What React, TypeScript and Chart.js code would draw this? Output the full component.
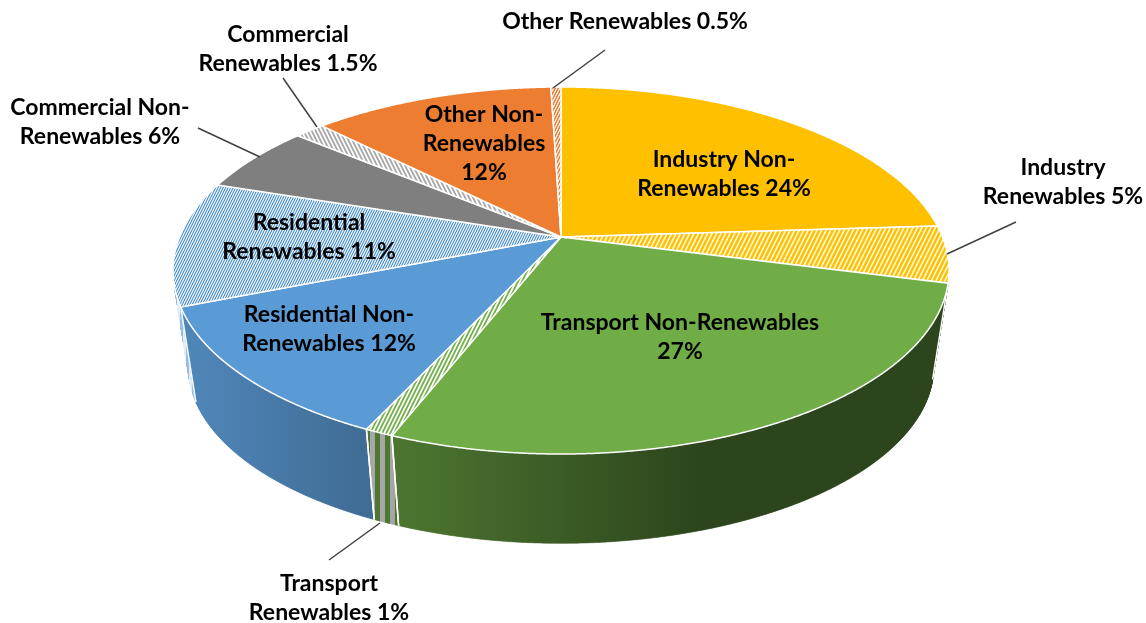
import React, { useEffect, useRef } from "react";
import { Chart, registerables } from "chart.js";

Chart.register(...registerables);

const categories = [
  "Industry Non-Renewables",
  "Industry Renewables",
  "Transport Non-Renewables",
  "Transport Renewables",
  "Residential Non-Renewables",
  "Residential Renewables",
  "Commercial Non-Renewables",
  "Commercial Renewables",
  "Other Non-Renewables",
  "Other Renewables",
];
const shares = [24, 5, 27, 1, 12, 11, 6, 1.5, 12, 0.5];
const labelLines = [
  ["Industry Non-", "Renewables 24%"],
  ["Industry", "Renewables 5%"],
  ["Transport Non-Renewables", "27%"],
  ["Transport", "Renewables 1%"],
  ["Residential Non-", "Renewables 12%"],
  ["Residential", "Renewables 11%"],
  ["Commercial Non-", "Renewables 6%"],
  ["Commercial", "Renewables 1.5%"],
  ["Other Non-", "Renewables", "12%"],
  ["Other Renewables 0.5%"],
];

const W = 1146;
const H = 623;

// view of the tilted disc
const view = { cx: 561, cy: 237, a: 177.4, b: 381.5, k: 0.1826, baseScale: 0.96, baseDrop: 98 };
const labelCentres = [
  [724, 160], [1063, 168], [680, 323], [329, 584], [329, 315],
  [309, 223], [100, 108], [288, 35], [484, 115], [625, 22],
];
const leaders: (number[] | null)[] = [
  null, [947, 254, 1016, 222], null, [380, 523, 329, 560], null,
  null, [260, 157, 198, 128], [317, 127, 283, 78], null, [553, 88, 605, 50],
];
const baseColors = ["#ffc000", "#ffc000", "#70ad47", "#70ad47", "#5b9bd5", "#5b9bd5", "#7f7f7f", "#a5a5a5", "#ed7d31", "#ed7d31"];
// [x step, y step, period, share of white] of the hatch of a slice
const hatches: (number[] | null)[] = [
  null, [2, 1, 9, 0.28], null, [2, 1, 8, 0.5], null,
  [2, 1, 5, 0.42], null, [2, -1, 8, 0.5], null, [2, 1, 6, 0.4],
];
const sideless = [0, 1, 6, 7, 8, 9];

function project(theta: number) {
  const X = Math.cos(theta);
  const Y = Math.sin(theta);
  const den = 1 - view.k * Y;
  return { x: view.cx + (view.b * X) / den, y: view.cy + (view.a * Y) / den };
}
function lower(p: { x: number; y: number }) {
  return {
    x: view.cx + (p.x - view.cx) * view.baseScale,
    y: view.cy + (p.y - view.cy) * view.baseScale + view.baseDrop,
  };
}
function shadeAt(x: number) {
  const stops = [[190, 0.87], [364, 0.7], [387, 0.69], [700, 0.4]];
  if (x <= stops[0][0]) return stops[0][1];
  for (let i = 1; i < stops.length; i++) {
    if (x <= stops[i][0]) {
      const t = (x - stops[i - 1][0]) / (stops[i][0] - stops[i - 1][0]);
      return stops[i - 1][1] + t * (stops[i][1] - stops[i - 1][1]);
    }
  }
  return stops[stops.length - 1][1];
}
function rgb(hex: string) {
  return [1, 3, 5].map((i) => parseInt(hex.slice(i, i + 2), 16));
}
function makePattern(ctx: CanvasRenderingContext2D, hex: string, spec: number[]) {
  const [ax, ay, period, share] = spec;
  const c = document.createElement("canvas");
  c.width = period;
  c.height = period;
  const g = c.getContext("2d")!;
  const img = g.createImageData(period, period);
  const base = rgb(hex);
  for (let y = 0; y < period; y++) {
    for (let x = 0; x < period; x++) {
      const wave = 0.5 + 0.5 * Math.cos((2 * Math.PI * (ax * x + ay * y)) / period);
      const mix = Math.max(0, Math.min(1, wave * 1.2 - 0.6 + share));
      const o = (y * period + x) * 4;
      for (let n = 0; n < 3; n++) img.data[o + n] = Math.round(base[n] + (255 - base[n]) * mix);
      img.data[o + 3] = 255;
    }
  }
  g.putImageData(img, 0, 0);
  return ctx.createPattern(c, "repeat")!;
}
function sideFill(ctx: CanvasRenderingContext2D, i: number) {
  const grad = ctx.createLinearGradient(0, 0, W, 0);
  const base = rgb(baseColors[i]);
  const paint = (c: number[], s: number) => `rgb(${Math.round(c[0] * s)},${Math.round(c[1] * s)},${Math.round(c[2] * s)})`;
  if (i === 5) {
    // the sliver of hatched blue showing at the far left
    for (let x = 0; x < W; x += 3) {
      const c = Math.floor(x / 3) % 2 === 0 ? [150, 190, 228] : [225, 236, 247];
      grad.addColorStop(x / W, paint(c, 1));
      grad.addColorStop(Math.min(1, (x + 2.5) / W), paint(c, 1));
    }
  } else if (hatches[i]) {
    const band = 5;
    for (let x = 0; x < W; x += band) {
      const s = shadeAt(x);
      const c = Math.floor(x / band) % 2 === 0 ? [240, 240, 240] : base;
      grad.addColorStop(x / W, paint(c, s));
      grad.addColorStop(Math.min(1, (x + band - 0.5) / W), paint(c, s));
    }
  } else {
    for (let x = 0; x <= W; x += 20) grad.addColorStop(x / W, paint(base, shadeAt(x)));
  }
  return grad;
}

const discPlugin = {
  id: "tiltedDisc",
  beforeDatasetDraw(chart: any) {
    const ctx: CanvasRenderingContext2D = chart.ctx;
    const arcs = chart.getDatasetMeta(0).data;
    const step = (0.2 * Math.PI) / 180;
    ctx.save();
    // rim, furthest slices first
    const order = arcs
      .map((arc: any, i: number) => ({ arc, i }))
      .filter((o: any) => !sideless.includes(o.i))
      .sort((p: any, q: any) => Math.sin((p.arc.startAngle + p.arc.endAngle) / 2) - Math.sin((q.arc.startAngle + q.arc.endAngle) / 2));
    for (const { arc, i } of order) {
      const fill = sideFill(ctx, i);
      ctx.beginPath();
      for (let t = arc.startAngle; t < arc.endAngle; t += step) {
        const p1 = project(t);
        const p2 = project(Math.min(t + step, arc.endAngle));
        const q1 = lower(p1);
        const q2 = lower(p2);
        ctx.moveTo(p1.x, p1.y);
        ctx.lineTo(p2.x, p2.y);
        ctx.lineTo(q2.x, q2.y);
        ctx.lineTo(q1.x, q1.y);
        ctx.closePath();
      }
      ctx.fillStyle = fill;
      ctx.strokeStyle = fill;
      ctx.lineWidth = 0.5;
      ctx.fill();
      ctx.stroke();
    }
    ctx.strokeStyle = "#ffffff";
    ctx.lineWidth = 1.5;
    order.forEach(({ arc, i }: any) => {
      if (i === 5) return;
      [arc.startAngle, arc.endAngle].forEach((t: number) => {
        const p = project(t);
        const q = lower(p);
        ctx.beginPath();
        ctx.moveTo(p.x, p.y);
        ctx.lineTo(q.x, q.y);
        ctx.stroke();
      });
    });
    // top face
    arcs.forEach((arc: any) => {
      ctx.beginPath();
      ctx.moveTo(view.cx, view.cy);
      for (let t = arc.startAngle; t < arc.endAngle; t += step) {
        const p = project(t);
        ctx.lineTo(p.x, p.y);
      }
      const e = project(arc.endAngle);
      ctx.lineTo(e.x, e.y);
      ctx.closePath();
      ctx.fillStyle = arc.options.backgroundColor;
      ctx.fill();
      ctx.strokeStyle = arc.options.borderColor;
      ctx.lineWidth = arc.options.borderWidth;
      ctx.stroke();
    });
    ctx.restore();
    return false;
  },
  afterDatasetsDraw(chart: any) {
    const ctx: CanvasRenderingContext2D = chart.ctx;
    ctx.save();
    ctx.strokeStyle = "#404040";
    ctx.lineWidth = 1.5;
    leaders.forEach((l) => {
      if (!l) return;
      ctx.beginPath();
      ctx.moveTo(l[0], l[1]);
      ctx.lineTo(l[2], l[3]);
      ctx.stroke();
    });
    ctx.fillStyle = "#000000";
    ctx.font = 'bold 23px Lato, "Open Sans", sans-serif';
    ctx.textAlign = "center";
    ctx.textBaseline = "middle";
    labelLines.forEach((lines, i) => {
      const [x, y] = labelCentres[i];
      lines.forEach((line, n) => ctx.fillText(line, x, y + n * 29));
    });
    ctx.restore();
  },
};

export default function App() {
  const ref = useRef<HTMLCanvasElement>(null);
  useEffect(() => {
    const canvas = ref.current!;
    const ctx = canvas.getContext("2d")!;
    const fills = baseColors.map((c, i) => (hatches[i] ? makePattern(ctx, c, hatches[i]!) : c));
    const chart = new Chart(canvas, {
      type: "pie",
      data: {
        labels: categories,
        datasets: [{ data: shares, backgroundColor: fills as any, borderColor: "#ffffff", borderWidth: 1.5 }],
      },
      options: {
        responsive: false,
        animation: false,
        rotation: 0,
        plugins: { legend: { display: false }, tooltip: { enabled: false }, title: { display: false } },
      },
      plugins: [discPlugin as any],
    });
    return () => chart.destroy();
  }, []);
  return (
    <canvas
      ref={ref}
      width={W}
      height={H}
      style={{ position: "fixed", left: 0, top: 0, width: W, height: H, background: "#ffffff" }}
    />
  );
}
